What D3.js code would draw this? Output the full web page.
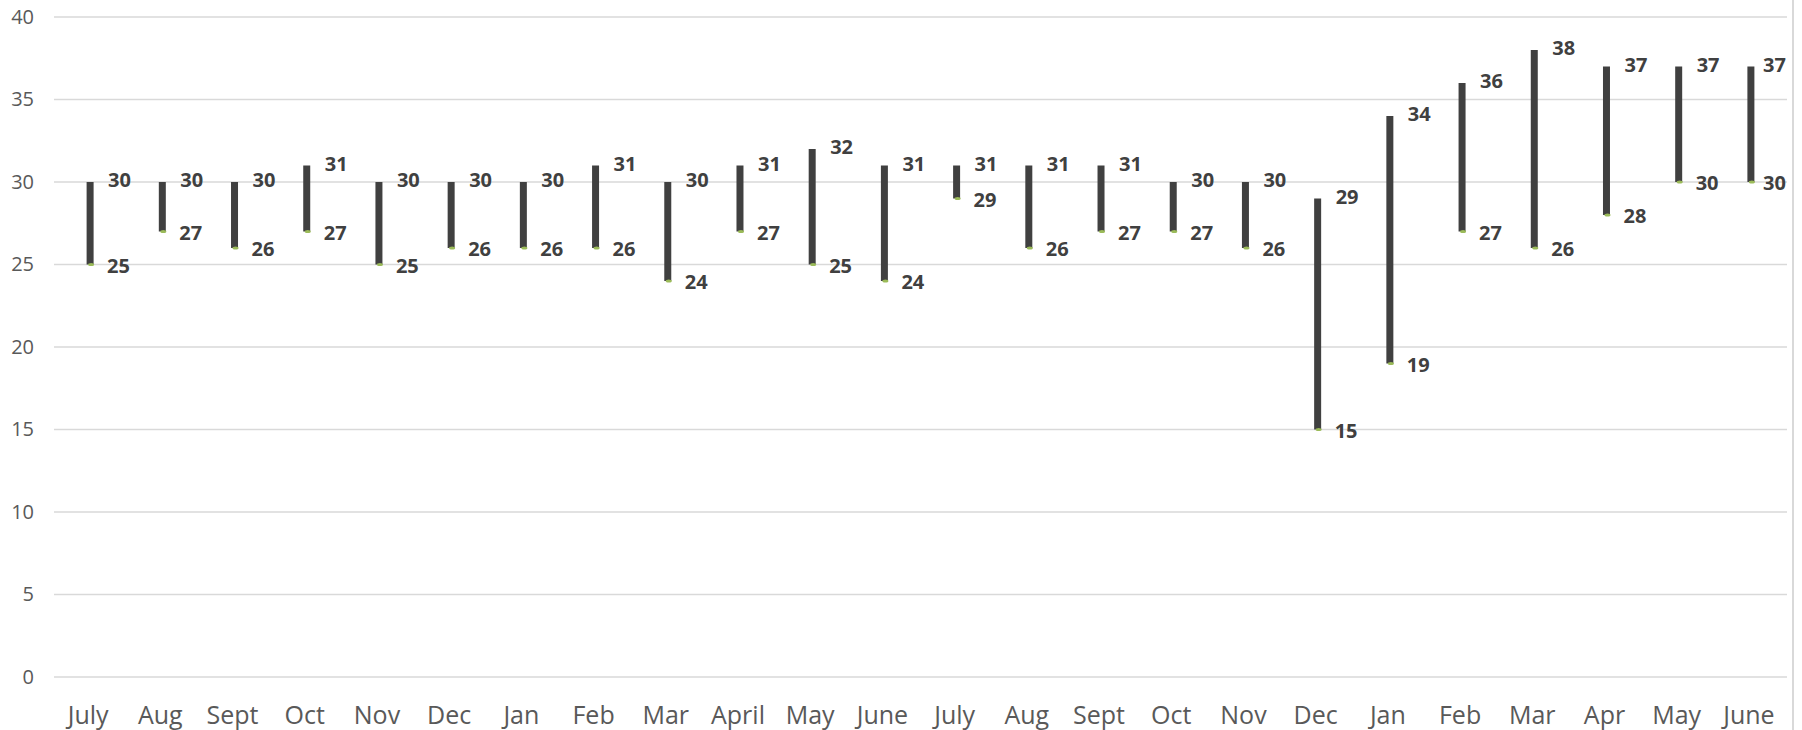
<!DOCTYPE html>
<html>
<head>
<meta charset="utf-8">
<script src="https://cdn.jsdelivr.net/npm/d3@7"></script>
<style>
  body { margin: 0; background: #fff; }
  #chart { width: 1802px; height: 730px; }
</style>
</head>
<body>
<div id="chart"></div>
<script>
// months for two seasons
const months = ["July", "Aug", "Sept", "Oct", "Nov", "Dec", "Jan", "Feb", "Mar", "April", "May", "June",
                "July", "Aug", "Sept", "Oct", "Nov", "Dec", "Jan", "Feb", "Mar", "Apr", "May", "June"];
const highs = [30, 30, 30, 31, 30, 30, 30, 31, 30, 31, 32, 31, 31, 31, 31, 30, 30, 29, 34, 36, 38, 37, 37, 37];
const lows  = [25, 27, 26, 27, 25, 26, 26, 26, 24, 27, 25, 24, 29, 26, 27, 27, 26, 15, 19, 27, 26, 28, 30, 30];
const yTicks = [0, 5, 10, 15, 20, 25, 30, 35, 40];

const width = 1802;
const height = 730;
const margin = { top: 17, right: 15, bottom: 53, left: 54 };

const data = months.map((m, i) => ({ key: i, month: m, high: highs[i], low: lows[i] }));

const svg = d3.select("#chart")
  .append("svg")
  .attr("width", width)
  .attr("height", height);

const x = d3.scaleBand()
  .domain(data.map(d => d.key))
  .range([margin.left, width - margin.right]);

const y = d3.scaleLinear()
  .domain([0, 40])
  .range([height - margin.bottom, margin.top]);

// right border of the chart area
svg.append("line")
  .attr("x1", width - 9).attr("x2", width - 9)
  .attr("y1", 0).attr("y2", height)
  .attr("stroke", "#d9d9d9")
  .attr("stroke-width", 2);

// gridlines
svg.append("g")
  .selectAll("line")
  .data(yTicks)
  .enter().append("line")
  .attr("x1", margin.left)
  .attr("x2", width - margin.right)
  .attr("y1", d => y(d))
  .attr("y2", d => y(d))
  .attr("stroke", "#d9d9d9")
  .attr("stroke-width", 1.5);

// y axis labels
const yAxis = d3.axisLeft(y).tickValues(yTicks).tickSize(0).tickPadding(20);
svg.append("g")
  .attr("transform", `translate(${margin.left},0)`)
  .call(yAxis)
  .call(g => g.select(".domain").remove())
  .selectAll("text")
  .attr("font-family", "'Open Sans', sans-serif")
  .attr("font-size", 20)
  .attr("fill", "#595959");

// x axis labels
const xAxis = d3.axisBottom(x).tickFormat(i => months[i]).tickSize(0).tickPadding(29);
svg.append("g")
  .attr("transform", `translate(-2,${height - margin.bottom})`)
  .call(xAxis)
  .call(g => g.select(".domain").remove())
  .selectAll("text")
  .attr("font-family", "'Open Sans', sans-serif")
  .attr("font-size", 25)
  .attr("fill", "#595959");

const barW = 7;

// high-low bars
svg.append("g")
  .selectAll("rect")
  .data(data)
  .enter().append("rect")
  .attr("x", d => x(d.key) + x.bandwidth() / 2 - barW / 2)
  .attr("y", d => y(d.high))
  .attr("width", barW)
  .attr("height", d => y(d.low) - y(d.high))
  .attr("fill", "#404040");

// little markers at the low end
svg.append("g")
  .selectAll("ellipse")
  .data(data)
  .enter().append("ellipse")
  .attr("cx", d => x(d.key) + x.bandwidth() / 2 + 1)
  .attr("cy", d => y(d.low))
  .attr("rx", 3)
  .attr("ry", 1.5)
  .attr("fill", "#9bbb59");

// data labels, kept inside the plot on the right
const plotRight = width - margin.right;
function labelX(d, off) {
  const cx = x(d.key) + x.bandwidth() / 2;
  return Math.min(cx + off, plotRight - 24);
}

const labels = svg.append("g")
  .attr("font-family", "'Open Sans', sans-serif")
  .attr("font-size", 20)
  .attr("font-weight", "bold")
  .attr("fill", "#404040");

labels.selectAll("text.high")
  .data(data)
  .enter().append("text")
  .attr("class", "high")
  .attr("x", d => labelX(d, 18))
  .attr("y", d => y(d.high) - 2)
  .attr("dy", "0.35em")
  .text(d => d.high);

labels.selectAll("text.low")
  .data(data)
  .enter().append("text")
  .attr("class", "low")
  .attr("x", d => labelX(d, 17))
  .attr("y", d => y(d.low) + 1)
  .attr("dy", "0.35em")
  .text(d => d.low);
</script>
</body>
</html>
